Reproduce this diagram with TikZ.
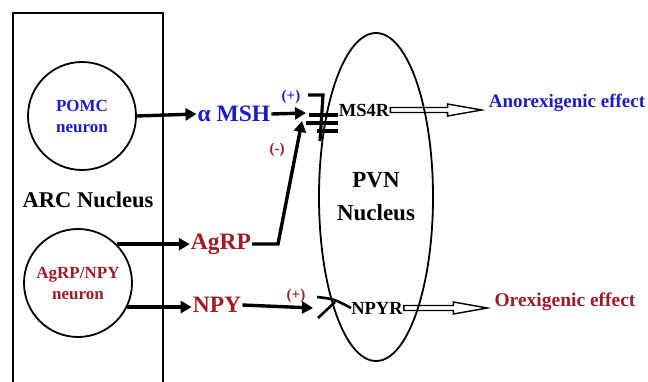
\documentclass[tikz,border=0pt]{standalone}
\usepackage{fontspec}
\setmainfont{Liberation Serif}
\usetikzlibrary{arrows.meta,calc,shapes.geometric}
\definecolor{pomcblue}{RGB}{28,28,200}
\definecolor{agrpred}{RGB}{158,28,38}
\tikzset{
  neuron/.style={draw,circle,line width=1.8pt,minimum size=108pt,inner sep=0pt,
    align=center,font=\bfseries\fontsize{17}{21}\selectfont},
  sig/.style={line width=3.4pt,-{Triangle[length=11pt,width=12pt]}},
  rcp/.style={line width=3.2pt},
  hollowarr/.style={line width=1.4pt,line join=miter},
  big/.style={font=\bfseries\fontsize{23.5}{26}\selectfont,inner sep=1pt},
  mid/.style={font=\bfseries\fontsize{18.5}{20}\selectfont,inner sep=1pt},
  sgn/.style={font=\bfseries\fontsize{15}{16}\selectfont,inner sep=0pt}
}
\begin{document}
\begin{tikzpicture}[x=1pt,y=-1pt]
  \useasboundingbox (0,0) rectangle (648,382);
  % ARC nucleus
  \draw[line width=1.9pt] (13,382) -- (13,13) -- (163,13) -- (163,382);
  \node[neuron,text=pomcblue] (pomc) at (82,116) {POMC\\neuron};
  \node[neuron,text=agrpred] (agnpy) at (78,283) {AgRP/NPY\\neuron};
  \node[big,font=\bfseries\fontsize{22.5}{24}\selectfont] (arc) at (88,200) {ARC Nucleus};
  % signals
  \node[big,text=pomcblue] (msh) at (234,114) {α MSH};
  \node[big,text=agrpred] (agrp) at (221,244) {AgRP};
  \node[big,text=agrpred] (npy) at (217,305) {NPY};
  \draw[sig] (pomc.east) -- (msh.west);
  \draw[sig] (agnpy.45) -- (agnpy.45 -| agrp.west);
  \draw[sig] (agnpy.-26) -- (agnpy.-26 -| npy.west);
  % PVN nucleus
  \node[draw,ellipse,line width=1.8pt,minimum width=114pt,minimum height=328pt,
    inner sep=0pt,align=center,font=\bfseries\fontsize{23}{33}\selectfont] (pvn) at (376,197) {PVN\\Nucleus};
  % MS4R receptor
  \draw[rcp] (308,95) -- (323,95) -- (320,141);
  \draw[rcp] (309,115) -- (338,115);
  \draw[rcp] (306,123) -- (338,123);
  \draw[rcp] (317,131) -- (338,131);
  \coordinate (mshin) at (306,113);
  \coordinate (agrpin) at (302,121);
  \draw[sig] (msh.east) -- (mshin);
  \draw[sig] (agrp.east) -- (278,244) -- (agrpin);
  \node[sgn,text=pomcblue] (plusa) at (291,97) {(+)};
  \node[sgn,text=agrpred] (minus) at (277,150) {(-)};
  \node[mid] (ms4r) at (364,110) {MS4R};
  % NPY receptor
  \coordinate (npyin) at (313,308);
  \draw[sig] (npy.east) -- (npyin);
  \draw[rcp,line width=2.6pt] (317,297) .. controls (334,299) .. (351,308);
  \draw[rcp,line width=2.6pt] (318,318) -- (335,302);
  \node[sgn,text=agrpred] (plusb) at (296,296) {(+)};
  \node[mid] (npyr) at (377,308) {NPYR};
  % effects
  \node[big,font=\bfseries\fontsize{19}{22}\selectfont,text=pomcblue] (anorex) at (567,103) {Anorexigenic effect};
  \node[big,font=\bfseries\fontsize{19.5}{22}\selectfont,text=agrpred] (orex) at (565,302) {Orexigenic effect};
  \draw[hollowarr] let \p1=(ms4r.east), \p2=(anorex.west) in
    (\x1,\y1-2.5pt) -- (\x2-40pt,\y1-2.5pt) -- (\x2-40pt,\y1-6pt) -- (\x2-6pt,\y1)
    -- (\x2-40pt,\y1+6pt) -- (\x2-40pt,\y1+2.5pt) -- (\x1,\y1+2.5pt) -- cycle;
  \draw[hollowarr] let \p1=(npyr.east), \p2=(orex.west) in
    (\x1,\y1-2.5pt) -- (\x2-40pt,\y1-2.5pt) -- (\x2-40pt,\y1-6pt) -- (\x2-6pt,\y1)
    -- (\x2-40pt,\y1+6pt) -- (\x2-40pt,\y1+2.5pt) -- (\x1,\y1+2.5pt) -- cycle;
\end{tikzpicture}
\end{document}
